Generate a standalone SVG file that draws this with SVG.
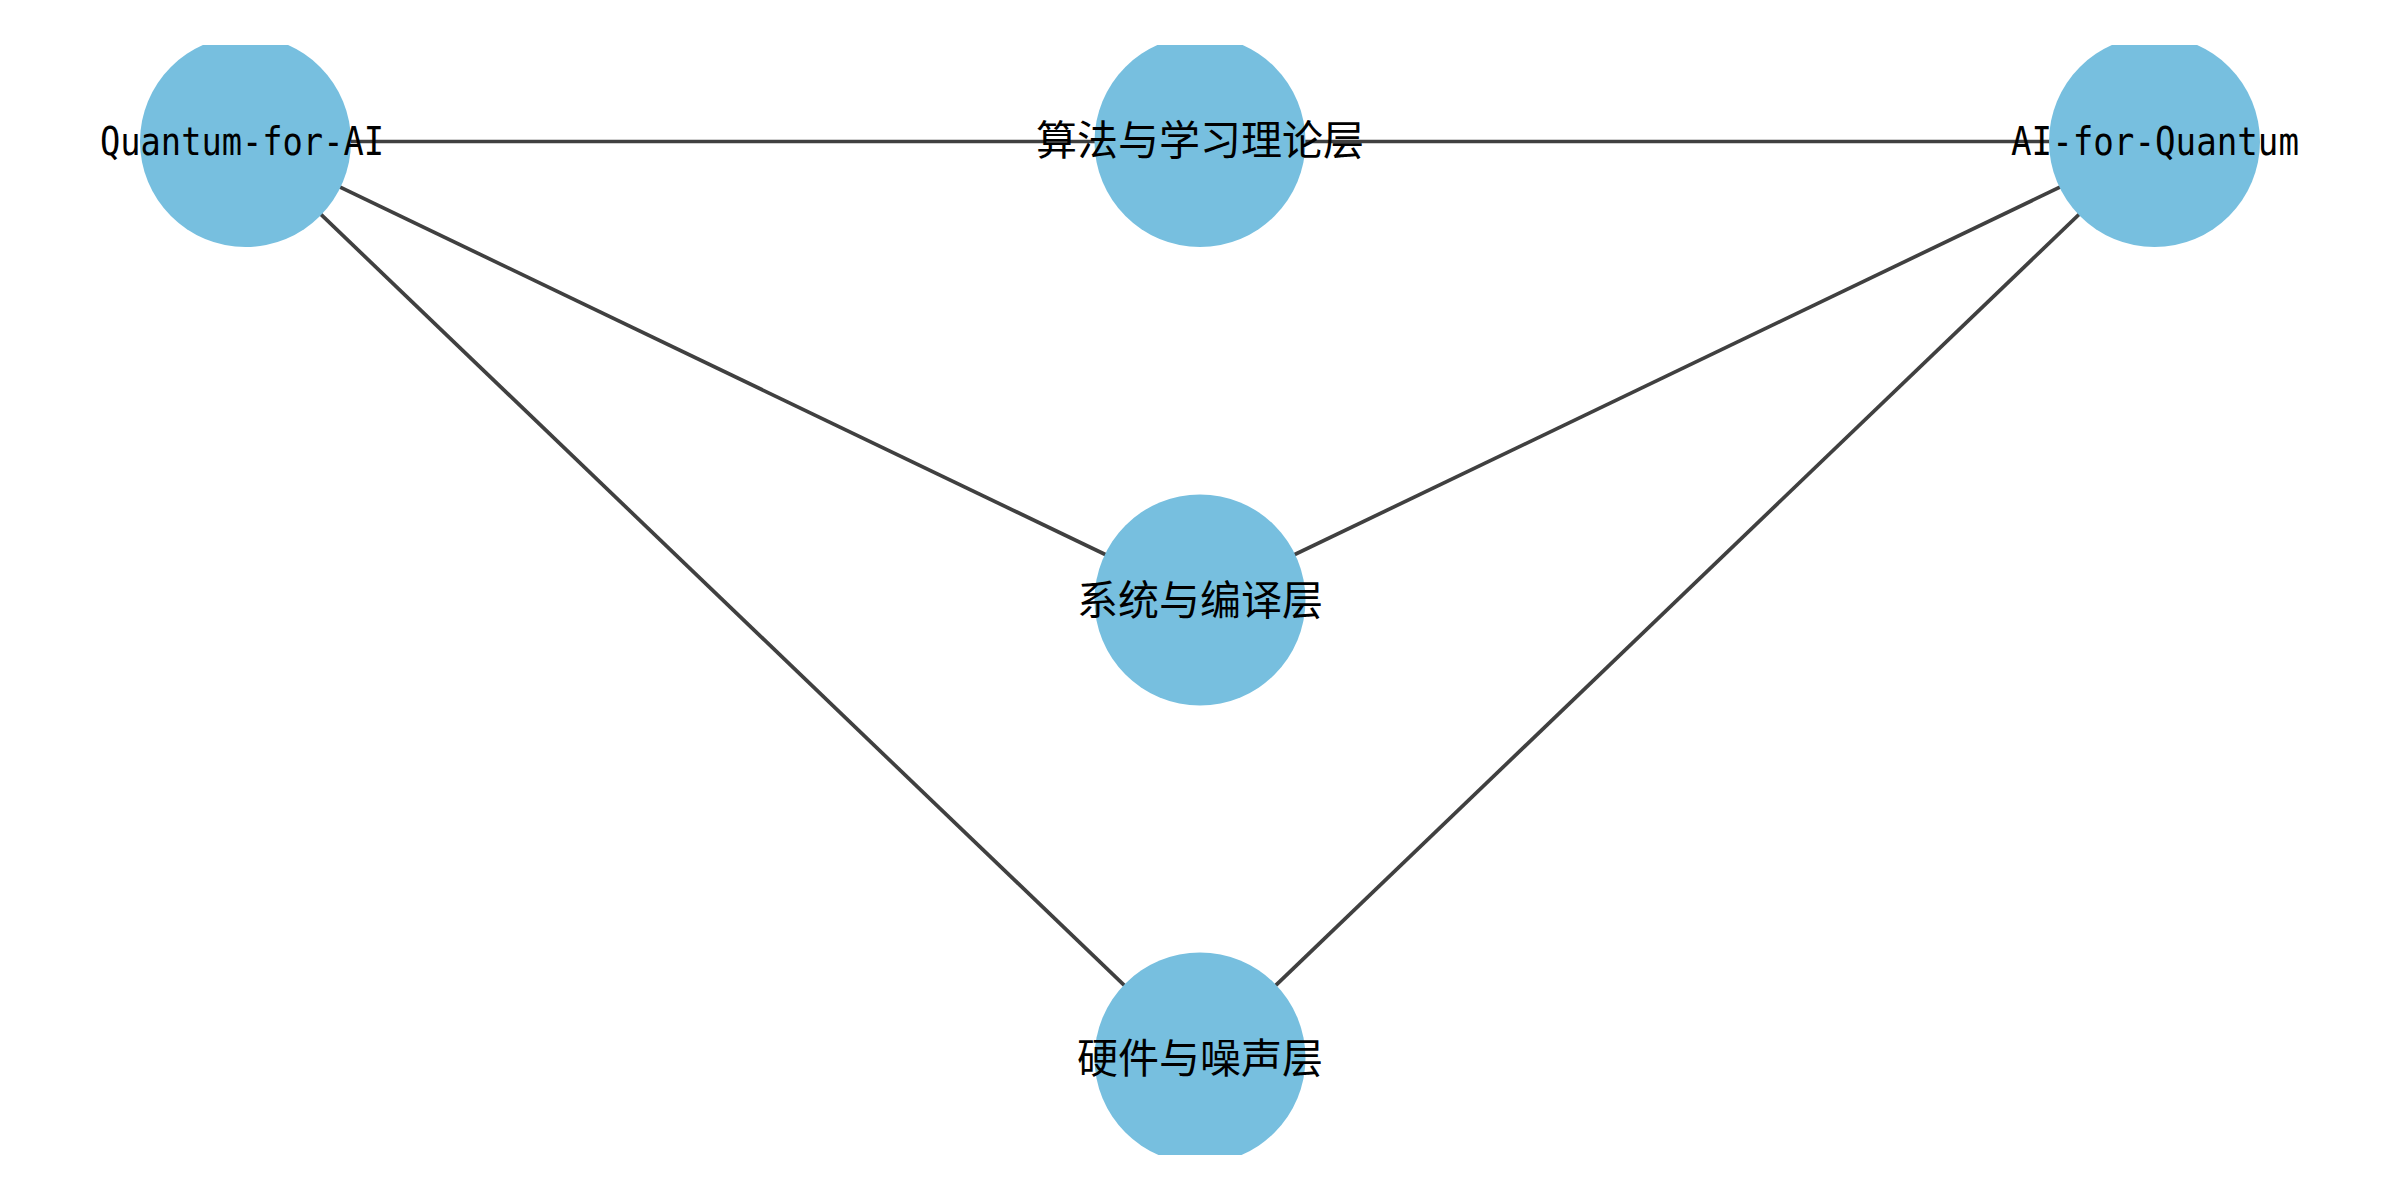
<svg xmlns="http://www.w3.org/2000/svg" width="2400" height="1200" viewBox="0 0 2400 1200">
<style>
.edge{stroke:#404040;stroke-width:3.7;fill:none}
.node{fill:#77BFDF}
.lat{font-family:"DejaVu Sans Mono","Liberation Mono",monospace;font-size:39px;fill:#000;text-anchor:middle}
.cjk{font-family:"Noto Sans CJK SC","Noto Sans",sans-serif;font-size:41px;fill:#000;text-anchor:middle}
</style>
<defs>
<clipPath id="ax"><rect x="0" y="45" width="2400" height="1110"/></clipPath>
</defs>
<rect width="2400" height="1200" fill="#fff"/>
<g id="edges">
<line class="edge" x1="245" y1="141.5" x2="1200" y2="141.5"/>
<line class="edge" x1="1200" y1="141.5" x2="2155" y2="141.5"/>
<line class="edge" x1="245" y1="141.5" x2="1200" y2="600"/>
<line class="edge" x1="245" y1="141.5" x2="1200" y2="1058"/>
<line class="edge" x1="2155" y1="141.5" x2="1200" y2="600"/>
<line class="edge" x1="2155" y1="141.5" x2="1200" y2="1058"/>
</g>
<g id="node-q4ai">
<circle class="node" cx="245.5" cy="141.5" r="105.5" clip-path="url(#ax)"/>
<text class="lat" x="242" y="154.5" textLength="284" lengthAdjust="spacingAndGlyphs">Quantum-for-AI</text>
</g>
<g id="node-algo">
<circle class="node" cx="1200" cy="141.5" r="105.5" clip-path="url(#ax)"/>
<text class="cjk" x="1200" y="155">算法与学习理论层</text>
</g>
<g id="node-ai4q">
<circle class="node" cx="2154.5" cy="141.5" r="105.5" clip-path="url(#ax)"/>
<text class="lat" x="2155" y="154.5" textLength="288" lengthAdjust="spacingAndGlyphs">AI-for-Quantum</text>
</g>
<g id="node-sys">
<circle class="node" cx="1200" cy="600" r="105.5" clip-path="url(#ax)"/>
<text class="cjk" x="1200" y="615">系统与编译层</text>
</g>
<g id="node-hw">
<circle class="node" cx="1200" cy="1058" r="105.5" clip-path="url(#ax)"/>
<text class="cjk" x="1200" y="1073">硬件与噪声层</text>
</g>
</svg>
